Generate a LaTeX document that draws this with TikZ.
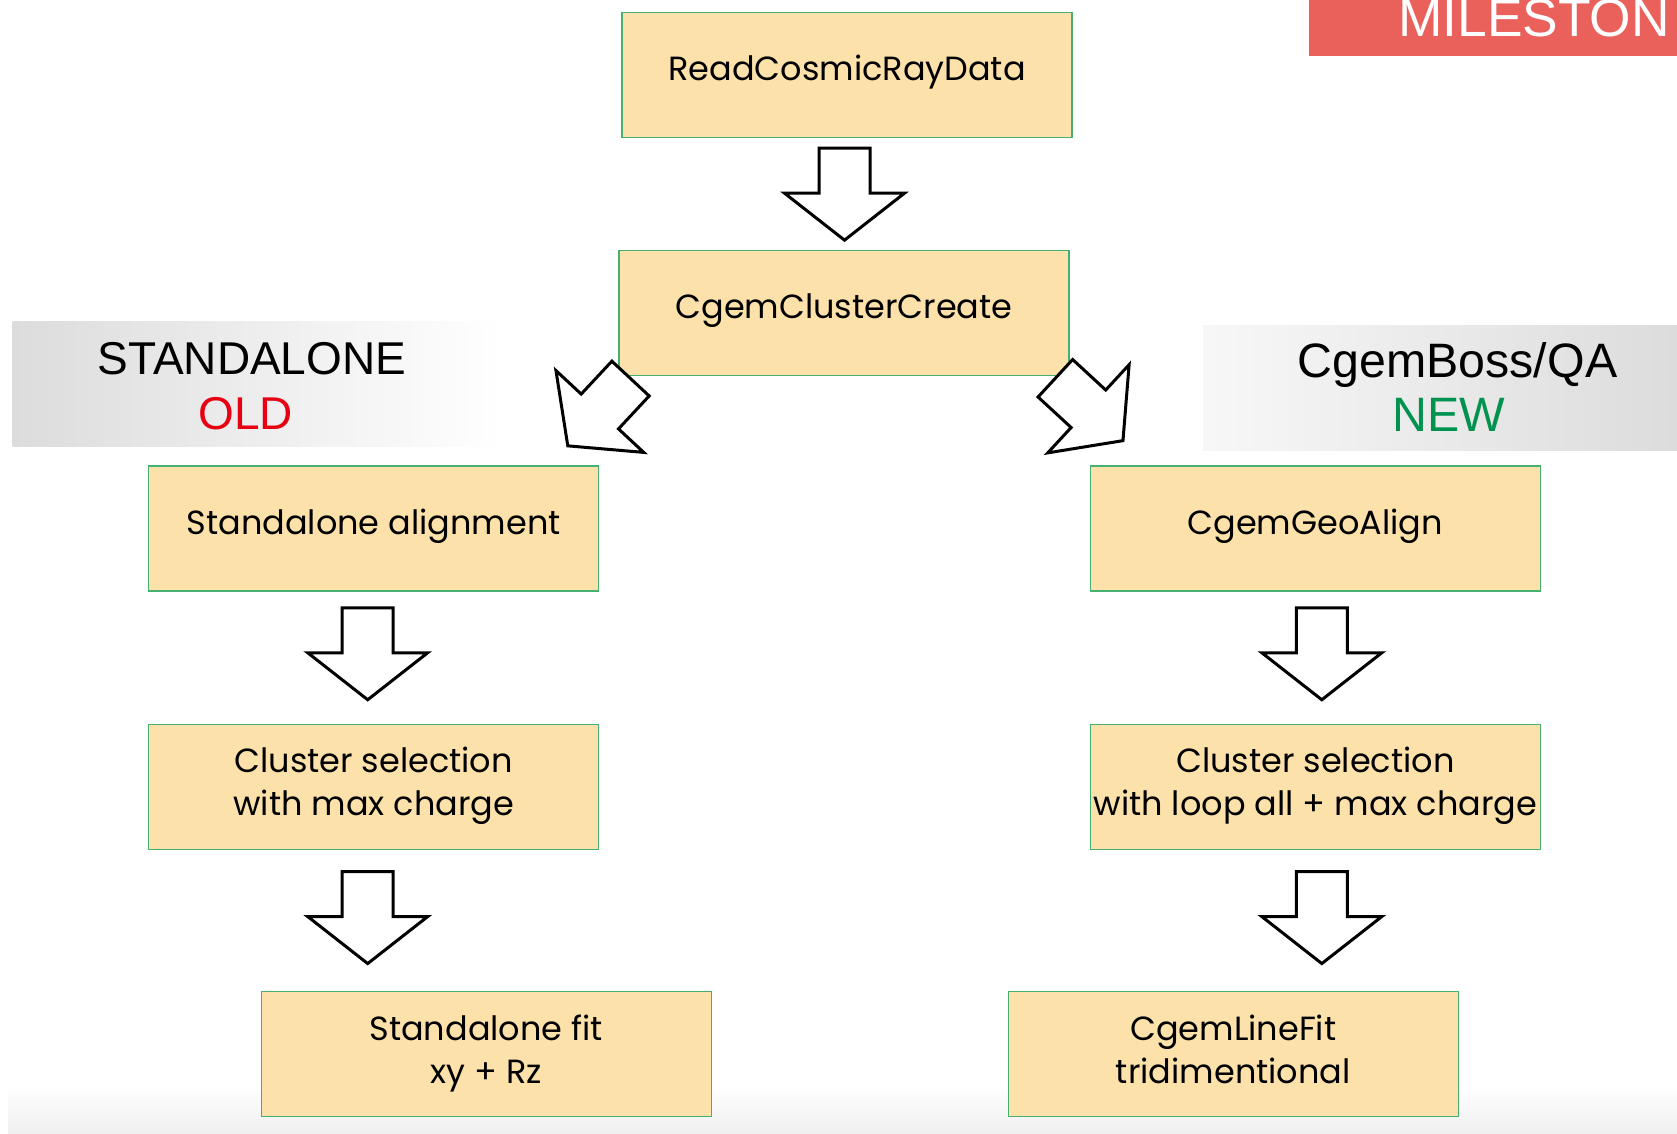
\documentclass[tikz,border=0pt]{standalone}
\usepackage{fontspec}
\setmainfont{Poppins}
\newfontfamily\headfont{Liberation Sans}
\usetikzlibrary{positioning,calc}
\definecolor{boxfill}{RGB}{252,225,171}
\definecolor{boxline}{RGB}{70,176,110}
\definecolor{oldred}{RGB}{230,0,18}
\definecolor{newgreen}{RGB}{0,146,79}
\definecolor{milered}{RGB}{234,96,90}
\definecolor{bandgray}{RGB}{220,220,220}
\newcommand{\twolines}[2]{\begin{tabular}[t]{@{}c@{}}#1\\#2\end{tabular}}
\tikzstyle{algo} = [draw=boxline, fill=boxfill, line width=1.3pt, minimum width=450pt, minimum height=125pt, inner sep=0pt, text height=20pt, text depth=9pt, font=\fontsize{33.5}{43}\selectfont]
\tikzstyle{algo2} = [algo, text depth=48pt]
\tikzstyle{head} = [anchor=base, inner sep=0pt]
\tikzset{
  bigarrow/.pic={
    \draw[line width=3pt, fill=white]
      (-46,-25.5) -- (-1,-25.5) -- (-1,-60) -- (46,0) -- (-1,60) -- (-1,25.5) -- (-46,25.5) -- cycle;
  }
}

\begin{document}
\begin{tikzpicture}[x=1pt, y=-1pt]
        \useasboundingbox (0,0) rectangle (1677,1133);
        \clip (0,0) rectangle (1677,1133);

        % side bands and page footer
        \shade[left color=bandgray, right color=white] (12.7,321.7) rectangle (503,446.7);
        \shade[left color=white!97!black, right color=bandgray] (1203,325) rectangle (1677,450);
        \shade[top color=white, bottom color=black!6] (8,1085) rectangle (1677,1133);
        \fill[milered] (1309,-5) rectangle (1677,55.7);
        \node[anchor=base west, inner sep=0pt, text=white, font=\headfont\fontsize{53.3}{60}\selectfont] (milestone) at (1398,36) {MILESTON};

        \node[head, font=\headfont\fontsize{46}{55}\selectfont] (standalone) at (252,374) {STANDALONE};
        \node[head, text=oldred, font=\headfont\fontsize{46}{55}\selectfont] (old) at (245.5,429) {OLD};
        \node[head, font=\headfont\fontsize{48.3}{55}\selectfont] (cgemboss) at (1457.5,377) {CgemBoss/QA};
        \node[head, text=newgreen, font=\headfont\fontsize{48.3}{55}\selectfont] (new) at (1448.5,431) {NEW};

        % algorithm chain
        \node[algo] (readdata) at (847,75) {ReadCosmicRayData};
        \node[algo, below=112pt of readdata, xshift=-3pt] (create) {CgemClusterCreate};
        \node[algo, below left=89pt and 19pt of create] (salign) {Standalone alignment};
        \node[algo, below right=89pt and 20pt of create] (geoalign) {CgemGeoAlign};
        \node[algo2, below=132pt of salign] (selold) {\twolines{Cluster selection}{with max charge}};
        \node[algo2, below=132pt of geoalign] (selnew) {\twolines{Cluster selection}{with loop all + max charge}};
        \node[algo2, below=141pt of selold, xshift=112.5pt] (safit) {\twolines{Standalone fit}{xy + Rz}};
        \node[algo2, below=141pt of selnew, xshift=-82pt] (linefit) {\twolines{CgemLineFit}{tridimentional}};

        % block arrows between the steps
        \pic[rotate=-90] at ($(readdata.south)!.5!(create.north)+(-1,0)$) {bigarrow};
        \pic[rotate=-133] at ($(create.south west)!.5!(salign.north east)+(-9.7,-8.75)$) {bigarrow};
        \pic[rotate=-42.7] at ($(create.south east)!.5!(geoalign.north west)+(9.5,-11.5)$) {bigarrow};
        \pic[rotate=-90] at ($(salign.south)!.5!(selold.north)+(-6,-4)$) {bigarrow};
        \pic[rotate=-90] at ($(selold.south)!.5!(selold.south |- safit.north)+(-6,-3)$) {bigarrow};
        \pic[rotate=-90] at ($(geoalign.south)!.5!(selnew.north)+(6.5,-4)$) {bigarrow};
        \pic[rotate=-90] at ($(selnew.south)!.5!(selnew.south |- linefit.north)+(6.5,-3)$) {bigarrow};
\end{tikzpicture}
\end{document}
